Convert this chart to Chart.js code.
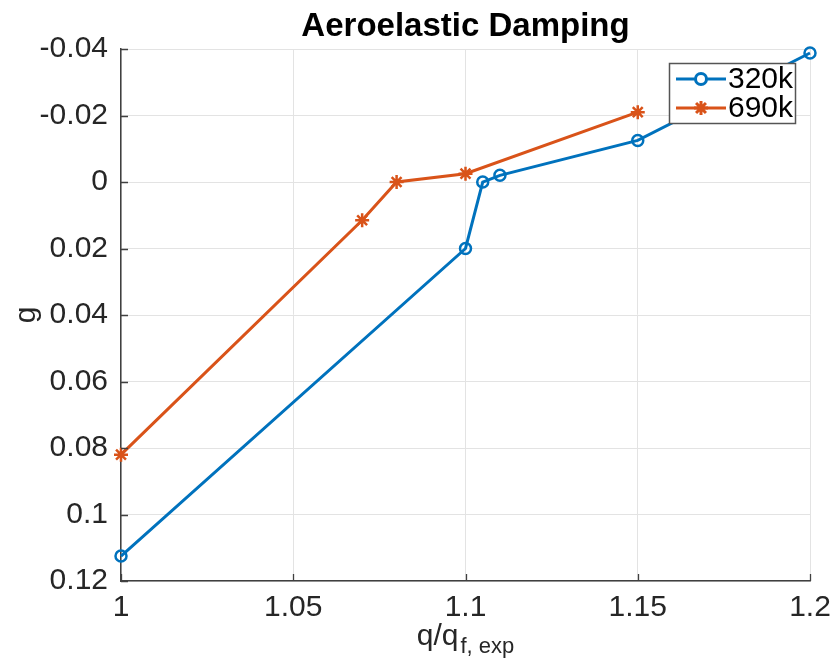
<!DOCTYPE html>
<html>
<head>
<meta charset="utf-8">
<script src="https://cdn.jsdelivr.net/npm/chart.js@4.4.1/dist/chart.umd.min.js"></script>
<style>
  html, body { margin: 0; padding: 0; background: #fff; }
  #wrap { width: 833px; height: 666px; }
</style>
</head>
<body>
<div id="wrap"><canvas id="chart" width="833" height="666"></canvas></div>
<script>
// values
const seriesNames = ['320k', '690k'];
const x320 = [1, 1.1, 1.105, 1.11, 1.15, 1.2];
const g320 = [0.1125, 0.02, 0.0, -0.002, -0.0125, -0.0388];
const x690 = [1, 1.07, 1.08, 1.1, 1.15];
const g690 = [0.082, 0.0115, 0.0, -0.0025, -0.021];
const xTicks = [1, 1.05, 1.1, 1.15, 1.2];
const yTicks = [-0.04, -0.02, 0, 0.02, 0.04, 0.06, 0.08, 0.1, 0.12];

const BLUE = '#0072BD';
const ORANGE = '#D95319';
const AXIS = '#404040';
const TEXT = '#262626';
const FONT = '"Liberation Sans", Arial, Helvetica, sans-serif';

const toPoints = (xs, ys) => xs.map((x, i) => ({ x: x, y: ys[i] }));

const matlabExtras = {
  id: 'matlabExtras',
  afterDraw(chart) {
    const ctx = chart.ctx;
    const area = chart.chartArea;
    const xs = chart.scales.x;
    const ys = chart.scales.y;
    ctx.save();

    // inward tick marks
    ctx.strokeStyle = AXIS;
    ctx.lineWidth = 1.3;
    ctx.beginPath();
    xTicks.forEach(v => {
      const px = Math.round(xs.getPixelForValue(v)) + 0.5;
      ctx.moveTo(px, area.bottom);
      ctx.lineTo(px, area.bottom - 7);
    });
    yTicks.forEach(v => {
      const py = Math.round(ys.getPixelForValue(v)) + 0.5;
      ctx.moveTo(area.left, py);
      ctx.lineTo(area.left + 7, py);
    });
    ctx.stroke();

    // title
    ctx.fillStyle = '#000';
    ctx.font = 'bold 33px ' + FONT;
    ctx.textAlign = 'center';
    ctx.textBaseline = 'alphabetic';
    const cx = (area.left + area.right) / 2;
    ctx.fillText('Aeroelastic Damping', cx, 36);

    // x axis label with subscript
    ctx.fillStyle = TEXT;
    ctx.font = '30px ' + FONT;
    ctx.textAlign = 'left';
    const main = 'q/q';
    const sub = 'f, exp';
    const wMain = ctx.measureText(main).width;
    ctx.font = '22px ' + FONT;
    const wSub = ctx.measureText(sub).width;
    const startX = cx - (wMain + wSub + 2) / 2;
    ctx.font = '30px ' + FONT;
    ctx.fillText(main, startX, 645);
    ctx.font = '22px ' + FONT;
    ctx.fillText(sub, startX + wMain + 2, 653);

    // y axis label
    ctx.save();
    ctx.translate(27, (area.top + area.bottom) / 2);
    ctx.rotate(-Math.PI / 2);
    ctx.font = '30px ' + FONT;
    ctx.textAlign = 'center';
    ctx.textBaseline = 'middle';
    ctx.fillText('g', 0, 0);
    ctx.restore();

    // legend box inside the axes
    const lx = 669, ly = 63, lw = 126, lh = 60;
    ctx.fillStyle = '#fff';
    ctx.fillRect(lx, ly, lw, lh);
    ctx.strokeStyle = '#555';
    ctx.lineWidth = 1.5;
    ctx.strokeRect(lx + 0.5, ly + 0.5, lw, lh);
    chart.data.datasets.forEach((ds, i) => {
      const rowY = ly + 16 + i * 29;
      ctx.strokeStyle = ds.borderColor;
      ctx.lineWidth = ds.borderWidth;
      ctx.beginPath();
      ctx.moveTo(lx + 7, rowY);
      ctx.lineTo(lx + 57, rowY);
      ctx.stroke();
      Chart.helpers.drawPoint(ctx, {
        pointStyle: ds.pointStyle,
        radius: ds.pointRadius,
        borderWidth: ds.pointBorderWidth,
        rotation: 0
      }, lx + 32, rowY);
      ctx.fillStyle = '#000';
      ctx.font = '30px ' + FONT;
      ctx.textAlign = 'left';
      ctx.textBaseline = 'middle';
      ctx.fillText(ds.label, lx + 59, rowY + 1);
    });
    ctx.restore();
  }
};

new Chart(document.getElementById('chart'), {
  type: 'line',
  data: {
    datasets: [
      {
        label: seriesNames[0],
        data: toPoints(x320, g320),
        borderColor: BLUE,
        backgroundColor: 'rgba(0,0,0,0)',
        borderWidth: 3,
        pointStyle: 'circle',
        pointRadius: 5.5,
        pointBorderWidth: 2.5,
        pointBorderColor: BLUE,
        pointBackgroundColor: 'rgba(0,0,0,0)',
        tension: 0,
        clip: false
      },
      {
        label: seriesNames[1],
        data: toPoints(x690, g690),
        borderColor: ORANGE,
        backgroundColor: 'rgba(0,0,0,0)',
        borderWidth: 3,
        pointStyle: 'star',
        pointRadius: 7,
        pointBorderWidth: 2.5,
        pointBorderColor: ORANGE,
        pointBackgroundColor: ORANGE,
        tension: 0,
        clip: false
      }
    ]
  },
  options: {
    responsive: false,
    animation: false,
    layout: { padding: { left: 0, top: 49, right: 23, bottom: 0 } },
    plugins: {
      legend: { display: false },
      title: { display: false },
      tooltip: { enabled: false }
    },
    scales: {
      x: {
        type: 'linear',
        min: 1,
        max: 1.2,
        afterFit: s => { s.height = 85; s.paddingLeft = 0; s.paddingRight = 0; },
        afterBuildTicks: s => { s.ticks = xTicks.map(v => ({ value: v })); },
        grid: { color: '#e3e3e3', lineWidth: 1, drawTicks: false },
        border: { color: AXIS, width: 1.5 },
        ticks: {
          padding: 9,
          color: TEXT,
          font: { family: FONT, size: 30 },
          maxRotation: 0,
          callback: v => String(Math.round(v * 100) / 100)
        }
      },
      y: {
        type: 'linear',
        reverse: true,
        min: -0.04,
        max: 0.12,
        afterFit: s => { s.width = 121; s.paddingTop = 0; s.paddingBottom = 0; },
        afterBuildTicks: s => { s.ticks = yTicks.map(v => ({ value: v })); },
        grid: { color: '#e3e3e3', lineWidth: 1, drawTicks: false },
        border: { color: AXIS, width: 1.5 },
        ticks: {
          padding: 13,
          color: TEXT,
          font: { family: FONT, size: 30 },
          callback: v => String(Math.round(v * 100) / 100)
        }
      }
    }
  },
  plugins: [matlabExtras]
});
</script>
</body>
</html>
